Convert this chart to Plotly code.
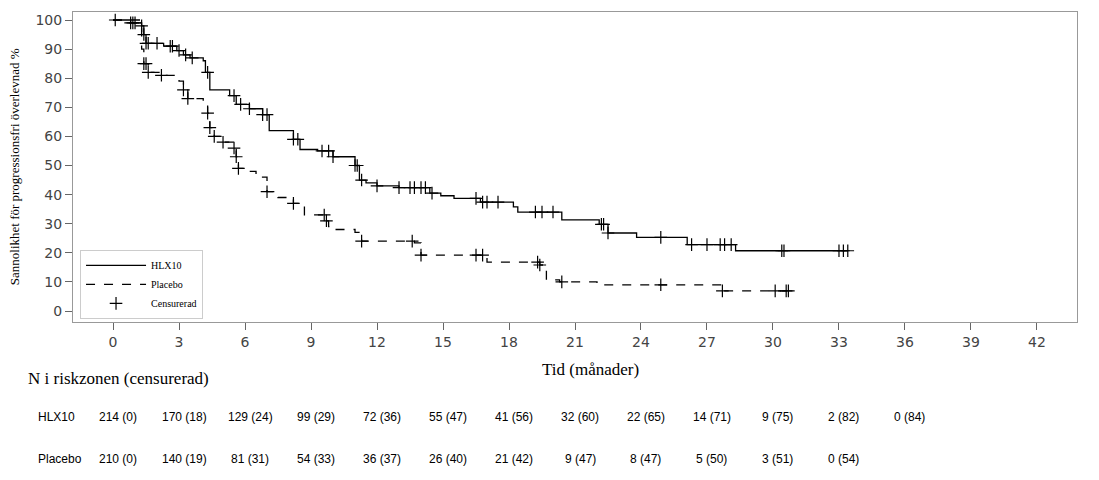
import numpy as np
import plotly.graph_objects as go

# Kaplan-Meier step points (time in months, PFS %)
hlx_t = [0, 0.8, 1.3, 1.4, 1.5, 2.3, 2.9, 3.2, 3.5, 4.1, 4.2, 4.4, 5.3, 5.6, 6.2, 6.8, 7.1,
         8.2, 8.5, 9.3, 10.0, 11.0, 11.2, 11.5, 12.0, 13.0, 14.4, 14.9, 15.5, 16.7, 18.2,
         18.4, 20.4, 22.1, 22.5, 23.8, 26.1, 28.3, 33.4]
hlx_s = [100, 99, 98, 95, 92, 91, 89.5, 88, 87, 86, 82, 76, 74, 71, 69.5, 67.5, 62,
         59, 55.5, 55, 53, 50, 45, 44, 43, 42.4, 40.5, 39.6, 38.7, 37.4, 35.8,
         34, 31.3, 29.8, 26.8, 25.3, 22.8, 20.7, 20.7]
hlx_cens = [0.1, 0.8, 0.9, 1.0, 1.3, 1.4, 1.5, 1.6, 2.0, 2.6, 2.7, 3.0, 3.3, 3.6, 4.3, 5.5, 5.8,
            6.2, 6.8, 7.0, 8.2, 8.4, 9.5, 9.8, 10.0, 11.0, 11.1, 11.3, 12.0, 13.0, 13.5, 13.7,
            14.0, 14.2, 14.5, 16.5, 16.8, 17.0, 17.5, 19.2, 19.5, 20.0, 22.2, 22.3, 22.5,
            24.9, 26.3, 27.0, 27.6, 27.8, 28.1, 30.4, 30.5, 33.0, 33.2, 33.4]

pla_t = [0, 1.3, 1.4, 1.6, 2.2, 3.0, 3.2, 3.4, 4.1, 4.3, 4.4, 4.6, 5.0, 5.5, 5.6, 5.7, 6.0,
         6.5, 7.0, 7.5, 8.2, 8.7, 9.7, 9.8, 10.0, 11.0, 11.3, 13.7, 14.0, 17.0, 19.4, 19.7,
         20.3, 22.0, 27.7, 30.8]
pla_s = [100, 90, 85, 82, 81, 79, 76, 73, 72, 68, 63, 60, 58, 56, 53, 49, 48,
         46, 41, 39, 37, 33, 31, 29, 28, 27, 24, 23.4, 19.2, 16.8, 15.8, 10.7,
         10, 9, 6.9, 6.9]
pla_cens = [1.4, 1.5, 1.6, 2.2, 3.2, 3.4, 4.3, 4.4, 4.6, 5.0, 5.5, 5.6, 5.7, 7.0, 8.2, 9.6,
            9.7, 11.3, 13.6, 14.0, 16.5, 16.8, 19.3, 19.4, 20.4, 24.9, 27.7, 30.1, 30.6, 30.7]

risk_times = [0, 3, 6, 9, 12, 15, 18, 21, 24, 27, 30, 33, 36]
hlx_risk = ["214 (0)", "170 (18)", "129 (24)", "99 (29)", "72 (36)", "55 (47)", "41 (56)",
            "32 (60)", "22 (65)", "14 (71)", "9 (75)", "2 (82)", "0 (84)"]
pla_risk = ["210 (0)", "140 (19)", "81 (31)", "54 (33)", "36 (37)", "26 (40)", "21 (42)",
            "9 (47)", "8 (47)", "5 (50)", "3 (51)", "0 (54)"]


def step_value(times, surv, at):
    idx = np.searchsorted(times, at, side="right") - 1
    return [surv[i] for i in idx]


cross = dict(symbol="cross-thin-open", size=9, color="black", line=dict(color="black", width=1.2))

fig = go.Figure()
fig.add_trace(go.Scatter(x=hlx_t, y=hlx_s, mode="lines", line_shape="hv", name="HLX10",
                         line=dict(color="black", width=1.3)))
fig.add_trace(go.Scatter(x=pla_t, y=pla_s, mode="lines", line_shape="hv", name="Placebo",
                         line=dict(color="black", width=1.3, dash="dash")))
fig.add_trace(go.Scatter(x=hlx_cens, y=step_value(hlx_t, hlx_s, hlx_cens), mode="markers",
                         name="Censurerad", marker=cross))
fig.add_trace(go.Scatter(x=pla_cens, y=step_value(pla_t, pla_s, pla_cens), mode="markers",
                         showlegend=False, marker=cross))

tick_font = dict(family="DejaVu Sans", size=14, color="#444")
fig.update_layout(
    width=1099, height=480, plot_bgcolor="white", paper_bgcolor="white",
    margin=dict(l=65, r=30, t=4, b=166),
    xaxis=dict(range=[-1.82, 43.82], tickvals=list(range(0, 43, 3)), ticks="outside",
               ticklen=7, tickcolor="#666", showgrid=False, zeroline=False,
               showline=True, linecolor="#999", mirror=True, tickfont=tick_font),
    yaxis=dict(range=[-3.78, 102.75], tickvals=list(range(0, 101, 10)), ticks="outside",
               ticklen=7, tickcolor="#666", showgrid=False, zeroline=False,
               showline=True, linecolor="#999", mirror=True, tickfont=tick_font),
    legend=dict(x=0.007, y=0.01, xanchor="left", yanchor="bottom", bordercolor="#ccc",
                borderwidth=1, bgcolor="white", tracegroupgap=0, itemwidth=60,
                font=dict(family="Liberation Serif", size=10, color="black")),
    showlegend=True,
)

serif = dict(family="Liberation Serif", color="black")
fig.add_annotation(text="Sannolikhet för progressionsfri överlevnad %", textangle=-90,
                   xref="paper", yref="paper", x=-0.068, y=0.5, showarrow=False,
                   font=dict(size=13, **serif))
fig.add_annotation(text="Tid (månader)", xref="paper", yref="paper", x=0.515, y=-0.19,
                   showarrow=False, font=dict(size=17, **serif))
fig.add_annotation(text="N i riskzonen (censurerad)", xref="paper", yref="paper",
                   x=-0.047, y=-0.22, xanchor="left", showarrow=False, font=dict(size=17, **serif))

sans = dict(family="Liberation Sans", size=12, color="black")
fig.add_annotation(text="HLX10", xref="paper", yref="paper", x=-0.037, y=-0.335,
                   xanchor="left", showarrow=False, font=sans)
fig.add_annotation(text="Placebo", xref="paper", yref="paper", x=-0.037, y=-0.47,
                   xanchor="left", showarrow=False, font=sans)
for t, lab in zip(risk_times, hlx_risk):
    fig.add_annotation(text=lab, x=t, xref="x", yref="paper", y=-0.335, xshift=5,
                       showarrow=False, font=sans)
for t, lab in zip(risk_times, pla_risk):
    fig.add_annotation(text=lab, x=t, xref="x", yref="paper", y=-0.47, xshift=5,
                       showarrow=False, font=sans)

fig.write_html("out.html")
